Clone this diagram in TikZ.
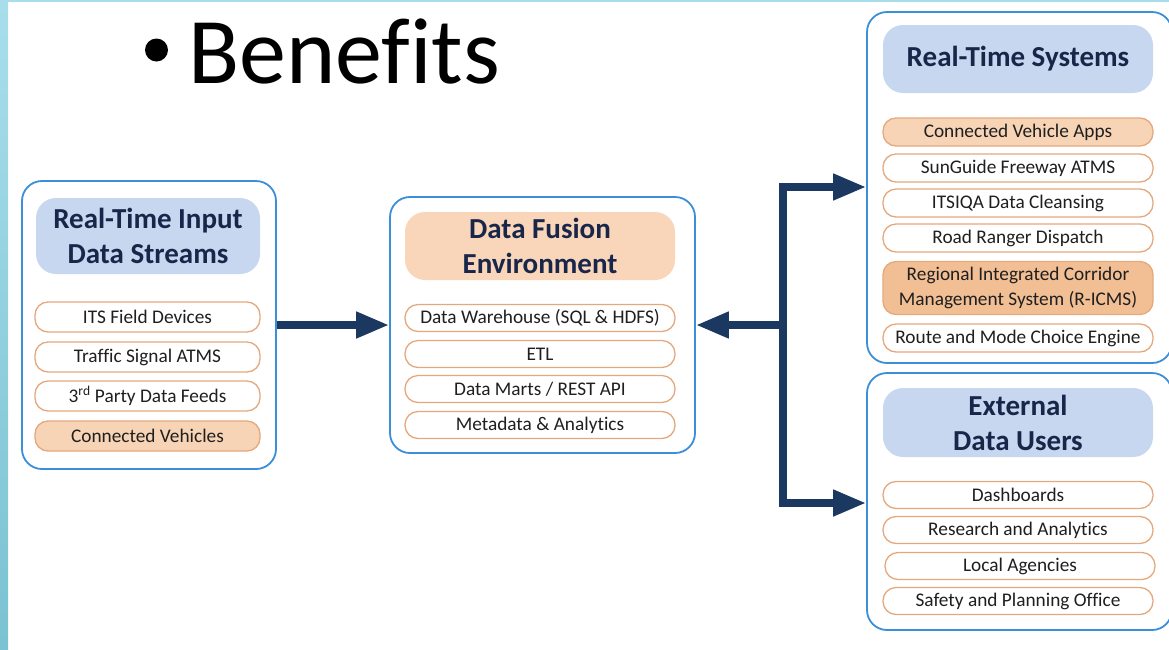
\documentclass[tikz,border=0pt]{standalone}
\usepackage{fontspec}
\setmainfont{Carlito}[Ligatures=CommonOff]
\usetikzlibrary{arrows.meta}

\definecolor{boxblue}{HTML}{3B8ED8}
\definecolor{headblue}{HTML}{C6D7EF}
\definecolor{headorange}{HTML}{F9D6B9}
\definecolor{itemline}{HTML}{E5A87C}
\definecolor{itemfill}{HTML}{F8D4B6}
\definecolor{itemdark}{HTML}{F2BF95}
\definecolor{navy}{HTML}{1B3860}
\definecolor{headtext}{HTML}{18264A}
\definecolor{striptop}{HTML}{A8DEEB}
\definecolor{stripbot}{HTML}{7BC2D2}

\tikzset{
    panel/.style={draw=boxblue, line width=1.8pt, rounded corners=20pt,
        inner sep=0pt},
    header/.style={fill=headblue, rounded corners=20pt, inner sep=0pt,
        text=headtext, align=center,
        font=\fontsize{29}{35}\selectfont\bfseries},
    item/.style={draw=itemline, fill=white, line width=1.3pt,
        rounded corners=13pt, inner sep=0pt, text=black!88, align=center,
        font=\fontsize{19.3}{25}\selectfont},
    flow/.style={draw=navy, line width=7.5pt, line join=miter,
        -{Triangle[length=33pt,width=25pt]}}
}

\begin{document}
\begin{tikzpicture}[x=1pt, y=-1pt]
    \useasboundingbox (0, 0) rectangle (1169, 649);
    \fill[striptop] (0, 0) rectangle (1169, 2);
    \shade[top color=striptop, bottom color=stripbot] (0, 0) rectangle (8, 649);

    % title
    \fill (156.5, 50) circle (11.5);
    \node[anchor=base west, inner sep=0pt, font=\fontsize{94}{110}\selectfont]
        (title) at (188, 83) {Benefits};

    % input streams
    \node[panel, minimum width=254pt, minimum height=288pt] (inpanel)
        at (149, 325) {};
    \node[header, minimum width=224pt, minimum height=76pt] (inhead)
        at (148, 236) {Real-Time Input\\Data Streams};
    \foreach \ind/\y/\col/\data in {1/317/white/ITS Field Devices,
        2/357/white/Traffic Signal ATMS,
        3/396/white/3\textsuperscript{rd} Party Data Feeds,
        4/436/itemfill/Connected Vehicles}
    \node[item, fill=\col, minimum width=225pt, minimum height=30pt]
        (in\ind) at (147.5, \y) {\data};

    % fusion
    \node[panel, minimum width=305pt, minimum height=256pt] (fusepanel)
        at (542.5, 325) {};
    \node[header, fill=headorange, minimum width=270pt, minimum height=68pt]
        (fusehead) at (540, 246) {Data Fusion\\Environment};
    \foreach \ind/\y/\data in {1/318/Data Warehouse (SQL \& HDFS),
        2/354/ETL, 3/389/{Data Marts / REST API},
        4/425/Metadata \& Analytics}
    \node[item, minimum width=270pt, minimum height=27pt]
        (fuse\ind) at (540, \y) {\data};

    % real-time systems
    \node[panel, minimum width=305pt, minimum height=351pt] (syspanel)
        at (1019.5, 187.5) {};
    \node[header, minimum width=270pt, minimum height=68pt] (syshead)
        at (1018, 59) {Real-Time Systems};
    \foreach \ind/\y/\h/\col/\data in {1/132/28/itemfill/Connected Vehicle Apps,
        2/168/28/white/SunGuide Freeway ATMS,
        3/203/28/white/ITSIQA Data Cleansing,
        4/238/28/white/Road Ranger Dispatch,
        5/288/53/itemdark/Regional Integrated Corridor\\Management System (R-ICMS),
        6/338/28/white/Route and Mode Choice Engine}
    \node[item, fill=\col, minimum width=270pt, minimum height=\h pt]
        (sys\ind) at (1018, \y) {\data};

    % external users
    \node[panel, minimum width=305pt, minimum height=257pt] (extpanel)
        at (1019.5, 501.5) {};
    \node[header, minimum width=270pt, minimum height=69pt] (exthead)
        at (1018, 422.5) {External\\Data Users};
    \foreach \ind/\x/\y/\data in {1/1018/495/Dashboards,
        2/1018/530/Research and Analytics, 3/1020/566/Local Agencies,
        4/1018/601/Safety and Planning Office}
    \node[item, minimum width=270pt, minimum height=27pt]
        (ext\ind) at (\x, \y) {\data};

    % arrows
    \coordinate (split) at (783, 325);
    \coordinate (uptop) at (783, 187);
    \coordinate (downbot) at (783, 503);
    \draw[flow] (inpanel.east) -- (fusepanel.west);
    \draw[flow] (split) -- (fusepanel.east);
    \draw[flow, {Triangle[length=33pt,width=25pt]}-{Triangle[length=33pt,width=25pt]}]
        (syspanel.west |- uptop) -- (uptop) -- (downbot)
        -- (extpanel.west |- downbot);
\end{tikzpicture}
\end{document}
